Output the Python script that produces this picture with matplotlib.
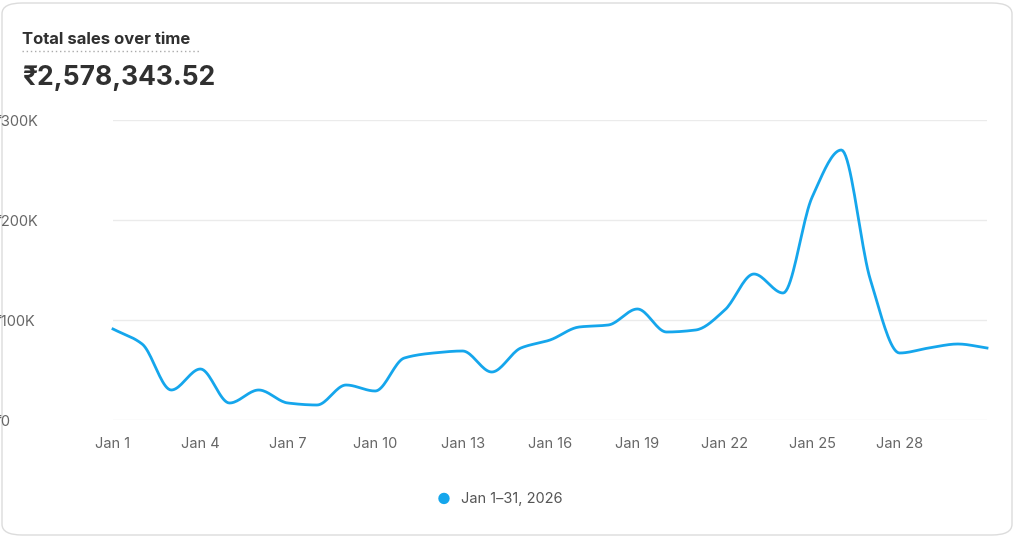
import numpy as np
import matplotlib.pyplot as plt
from matplotlib.patches import FancyBboxPatch

days = list(range(1, 32))
sales = [91, 76, 30, 51, 17, 30, 17, 15, 35, 29, 62, 67, 69, 48, 72, 80,
         93, 95, 111, 88, 90, 110, 146, 127, 223, 270, 140, 67, 72, 76, 72]
sales = [v * 1000 for v in sales]
tick_days = [1, 4, 7, 10, 13, 16, 19, 22, 25, 28]
tick_labels = ["Jan %d" % d for d in tick_days]
y_ticks = [0, 100000, 200000, 300000]
y_labels = ["₹0", "₹100K", "₹200K", "₹300K"]


def monotone(x, y, n=20):
    # monotone cubic curve, like d3 curveMonotoneX
    x = np.asarray(x, float); y = np.asarray(y, float)
    h = np.diff(x); s = np.diff(y) / h
    m = np.zeros_like(y)
    for i in range(1, len(y) - 1):
        if s[i - 1] * s[i] > 0:
            m[i] = 3 * (h[i - 1] + h[i]) / ((2 * h[i] + h[i - 1]) / s[i - 1] + (h[i] + 2 * h[i - 1]) / s[i])
    m[0] = s[0]; m[-1] = s[-1]
    xs, ys = [], []
    for i in range(len(h)):
        t = np.linspace(0, 1, n, endpoint=False)
        h00 = 2*t**3 - 3*t**2 + 1; h10 = t**3 - 2*t**2 + t
        h01 = -2*t**3 + 3*t**2; h11 = t**3 - t**2
        xs.extend(x[i] + t * h[i])
        ys.extend(h00*y[i] + h10*h[i]*m[i] + h01*y[i+1] + h11*h[i]*m[i+1])
    xs.append(x[-1]); ys.append(y[-1])
    return np.array(xs), np.array(ys)


plt.rcParams['font.family'] = ['Inter', 'DejaVu Sans']
fig = plt.figure(figsize=(10.16, 5.38), dpi=100)
card = FancyBboxPatch((2 / 1016, 3 / 538), 1010 / 1016, 532 / 538,
                      boxstyle="round,pad=0,rounding_size=0.02",
                      transform=fig.transFigure, facecolor='white',
                      edgecolor='#dcdcdc', linewidth=1, zorder=-10)
fig.patches.append(card)

ax = fig.add_axes([113 / 1016, 1 - 420 / 538, 874 / 1016, 300 / 538])
xs, ys = monotone(days, sales)
ax.plot(xs, ys, color='#15a6ec', linewidth=2, clip_on=False)
ax.set_xlim(1, 31)
ax.set_ylim(0, 300000)
ax.set_yticks(y_ticks)
ax.set_yticklabels(y_labels)
ax.set_xticks(tick_days)
ax.set_xticklabels(tick_labels)
ax.grid(axis='y', color='#ebebeb', linewidth=1)
ax.set_axisbelow(True)
ax.tick_params(length=0, labelsize=10.5, colors='#666666')
ax.tick_params(axis='x', pad=12)
ax.tick_params(axis='y', pad=86)
for t in ax.get_yticklabels():
    t.set_horizontalalignment('left')
for sp in ax.spines.values():
    sp.set_visible(False)
ax.set_facecolor('none')

fig.text(22 / 1016, 1 - 40 / 538, "Total sales over time", fontsize=12, fontweight='bold',
         color='#303030', va='center')
fig.add_artist(plt.Line2D([22 / 1016, 199 / 1016], [1 - 51 / 538] * 2, color='#aaaaaa',
                          linestyle=(0, (1, 2)), linewidth=1))
fig.text(22 / 1016, 1 - 78 / 538, "₹2,578,343.52", fontsize=19, fontweight='bold',
         color='#303030', va='center')
fig.text(444 / 1016, 1 - 499 / 538, "●", fontsize=11, color='#15a6ec', ha='center', va='center')
fig.text(461 / 1016, 1 - 499 / 538, "Jan 1–31, 2026", fontsize=10.5, color='#555555', va='center')

fig.savefig('out.png', dpi=100)
